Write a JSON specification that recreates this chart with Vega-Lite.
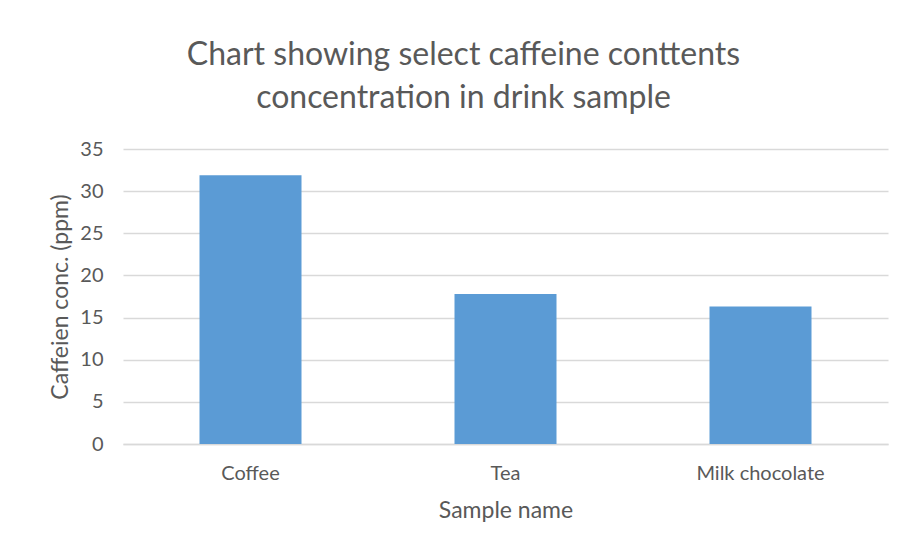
{
  "$schema": "https://vega.github.io/schema/vega-lite/v6.json",
  "width": 765,
  "height": 295,
  "autosize": {"type": "none"},
  "padding": {"left": 123, "top": 149, "right": 15, "bottom": 106},
  "background": "white",
  "config": {
    "font": "Lato",
    "view": {"stroke": null},
    "axis": {"labelFont": "Lato", "titleFont": "Lato", "labelColor": "#595959", "titleColor": "#595959", "titleFontWeight": "normal"}
  },
  "title": {
    "text": ["Chart showing select caffeine conttents", "concentration in drink sample"],
    "font": "Lato",
    "fontSize": 32,
    "fontWeight": "normal",
    "color": "#595959",
    "anchor": "middle",
    "dx": -42,
    "offset": 24,
    "lineHeight": 43
  },
  "data": {
    "values": [
      {"sample": "Coffee", "conc": 31.9},
      {"sample": "Tea", "conc": 17.8},
      {"sample": "Milk chocolate", "conc": 16.3}
    ]
  },
  "mark": {"type": "bar", "color": "#5b9bd5"},
  "encoding": {
    "x": {
      "field": "sample",
      "type": "nominal",
      "sort": null,
      "scale": {"paddingInner": 0.6, "paddingOuter": 0.3},
      "axis": {
        "title": "Sample name",
        "labelAngle": 0,
        "labelFontSize": 20,
        "titleFontSize": 23,
        "ticks": false,
        "domain": true,
        "domainColor": "#d9d9d9",
        "domainWidth": 1.5,
        "labelPadding": 19,
        "titlePadding": 16
      }
    },
    "y": {
      "field": "conc",
      "type": "quantitative",
      "scale": {"domain": [0, 35]},
      "axis": {
        "title": "Caffeien conc. (ppm)",
        "values": [0, 5, 10, 15, 20, 25, 30, 35],
        "labelFontSize": 20,
        "titleFontSize": 23,
        "ticks": false,
        "domain": false,
        "grid": true,
        "gridColor": "#d9d9d9",
        "gridWidth": 1.5,
        "labelPadding": 20,
        "titlePadding": 7
      }
    }
  }
}
